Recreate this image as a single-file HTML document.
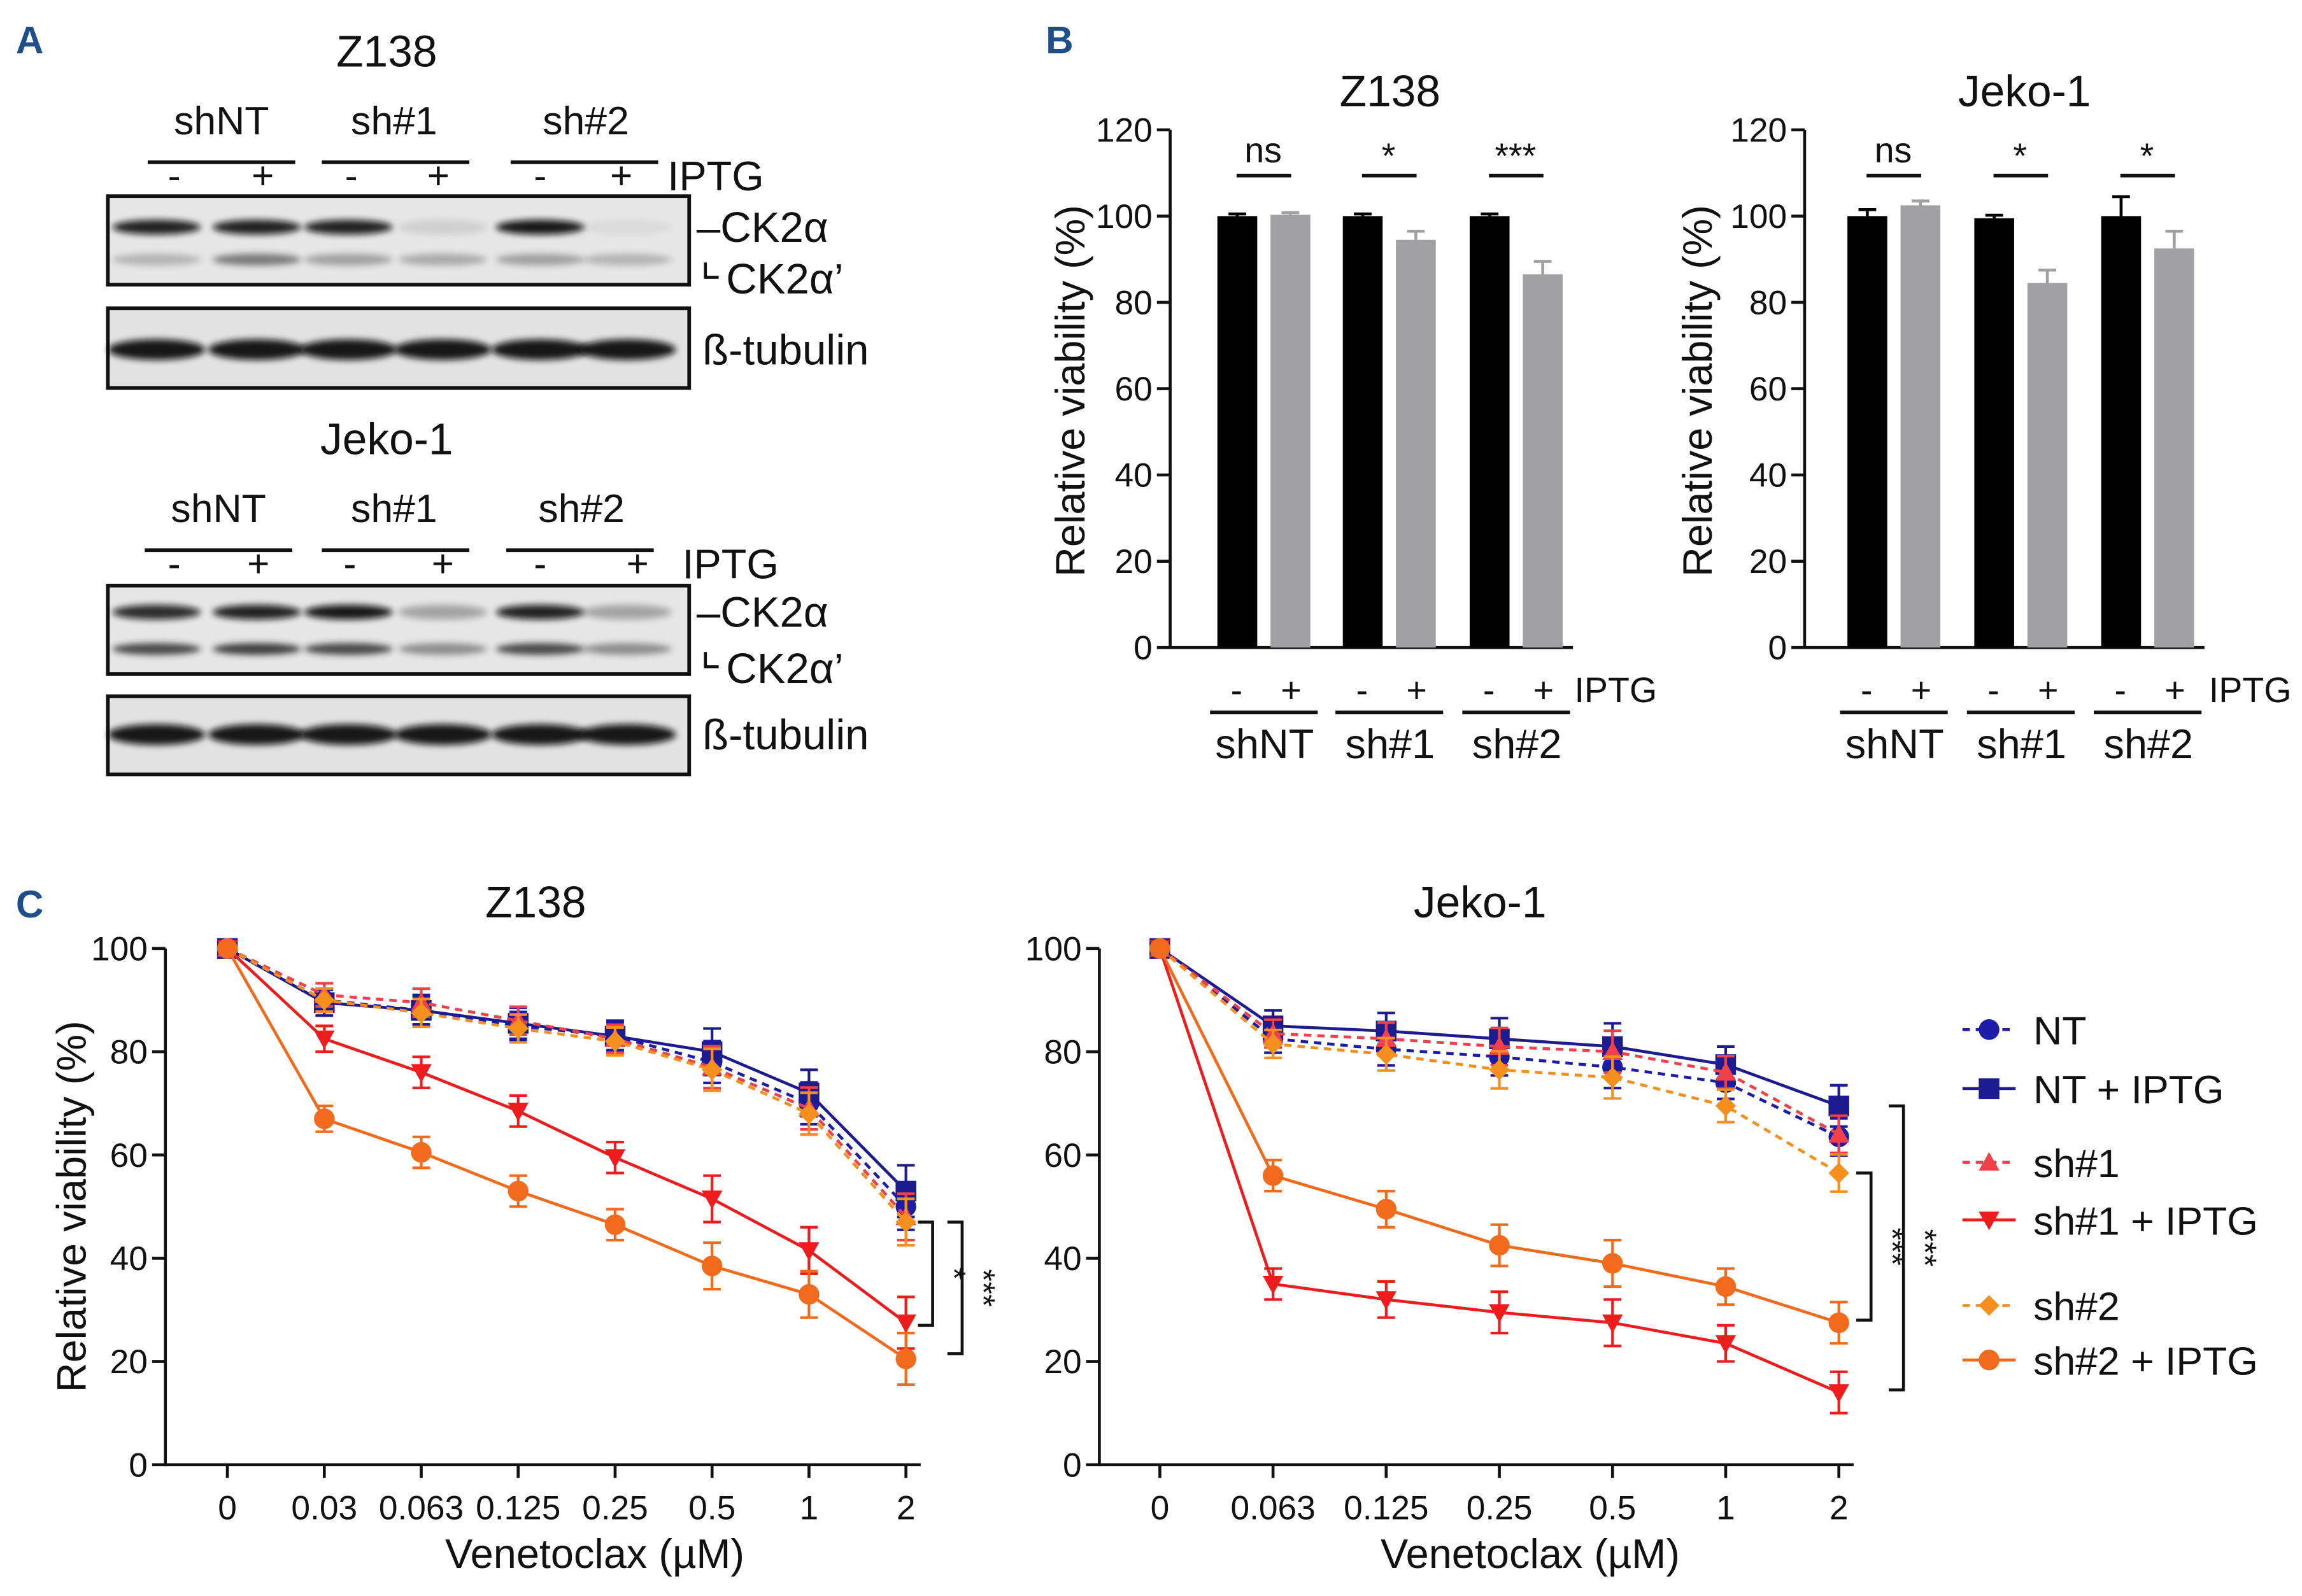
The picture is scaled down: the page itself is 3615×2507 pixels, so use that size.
<!DOCTYPE html>
<html><head><meta charset="utf-8"><style>
html,body{margin:0;padding:0;background:#fff}
svg{display:block;font-family:"Liberation Sans",Arial,sans-serif}
</style></head><body>
<svg id="fig" width="3615" height="2507" viewBox="0 0 1560 1082" xmlns="http://www.w3.org/2000/svg">
<defs><filter id="bl" x="-20%" y="-100%" width="140%" height="300%"><feGaussianBlur stdDeviation="2.2"/></filter></defs>
<g id="pa"></g>
<g id="pb"></g>
<g id="pc"></g>
</svg>
<script>
// ---------- DATA ----------
const barGroups = ["shNT","sh#1","sh#2"];
const z138BarMinus = [100,100,100];
const z138BarPlus = [100.3,94.5,86.5];
const z138ErrMinus = [0.5,0.5,0.5];
const z138ErrPlus = [0.5,2,3];
const z138Sig = ["ns","*","***"];
const jekoBarMinus = [100,99.5,100];
const jekoBarPlus = [102.5,84.5,92.5];
const jekoErrMinus = [1.5,0.7,4.5];
const jekoErrPlus = [1,3,4];
const jekoSig = ["ns","*","*"];
const barTicks = [0,20,40,60,80,100,120];

const z138Doses = ["0","0.03","0.063","0.125","0.25","0.5","1","2"];
const z138NT = [100,90,88,85,83,78,70,50];
const z138NTI = [100,89.5,88,85.5,83,80,72,53];
const z138S1 = [100,91,89.5,86,82.5,77,69,48];
const z138S1I = [100,82.5,76,68.5,59.5,51.5,41.5,27.5];
const z138S2 = [100,90,87.5,84.5,82,76.5,68,47];
const z138S2I = [100,67,60.5,53,46.5,38.5,33,20.5];
const z138Err = [0.5,2.5,3,3,3,4.5,4.5,5];
const jekoDoses = ["0","0.063","0.125","0.25","0.5","1","2"];
const jekoNT = [100,82.5,80.5,79,77,74,63.5];
const jekoNTI = [100,85,84,82.5,81,77.5,69.5];
const jekoS1 = [100,83.5,82.5,81,80,76,64];
const jekoS1I = [100,35,32,29.5,27.5,23.5,14];
const jekoS2 = [100,81.5,79.5,76.5,75,69.5,56.5];
const jekoS2I = [100,56,49.5,42.5,39,34.5,27.5];
const jekoErr = [0.5,3,3.5,4,4.5,3.5,4];
const lineTicks = [0,20,40,60,80,100];

const NS="http://www.w3.org/2000/svg";
function el(p,tag,a,txt){const e=document.createElementNS(NS,tag);for(const k in a)e.setAttribute(k,a[k]);if(txt!==undefined)e.textContent=txt;p.appendChild(e);return e;}
function T(p,x,y,s,size,anchor,extra){const e=el(p,'text',Object.assign({x:x,y:y,'font-size':size,'text-anchor':anchor||'middle',fill:'#111'},extra||{}),s);

return e;}

// ---------- PANEL A ----------
const pa=document.getElementById('pa');
const pl=T(pa,20,36,'A',26,'middle',{fill:'#1f4e8c','font-weight':'bold'});

function blot(y0,title,lblY,lblX,ulX,pmX,iptgX,b1,b2,k1,k2,ints){
  T(pa,262,y0,title,30);
  const labs=["shNT","sh#1","sh#2"];
  for(let i=0;i<3;i++){T(pa,lblX[i],lblY,labs[i],27);
    const u=el(pa,'line',{x1:ulX[i],x2:ulX[i]+100,y1:lblY+19,y2:lblY+19,stroke:'#111','stroke-width':2.5});
    }
  for(let i=0;i<6;i++)T(pa,pmX[i],lblY+37,i%2?'+':'-',26);
  T(pa,iptgX,lblY+38,'IPTG',28);
  [b1,b2].forEach((bb,j)=>{
    const r=el(pa,'rect',{x:73,y:bb[0],width:394,height:bb[1],fill:j?'#e2e2e2':'#e6e6e6',stroke:'#111','stroke-width':2.5});
    
  });
  const cx=[106,174,236,300,366,425];
  for(let i=0;i<6;i++){
    const a=el(pa,'ellipse',{cx:cx[i],cy:k1[0],rx:30,ry:5,fill:'#111',opacity:ints[0][i],filter:'url(#bl)'});
    
    const b=el(pa,'ellipse',{cx:cx[i],cy:k1[1],rx:30,ry:4,fill:'#222',opacity:ints[1][i],filter:'url(#bl)'});
    
    const c=el(pa,'ellipse',{cx:cx[i],cy:k2,rx:33,ry:7,fill:'#0a0a0a',opacity:0.95,filter:'url(#bl)'});
    
  }
  T(pa,472,k1[0]+10,'–CK2α',29,'start');
  const br=el(pa,'polyline',{points:`478,${k1[1]+2} 478,${k1[1]+12} 487,${k1[1]+12}`,fill:'none',stroke:'#111','stroke-width':2});
  
  T(pa,492,k1[1]+23,'CK2α’',29,'start');
  T(pa,476,k2+10,'ß-tubulin',29,'start');
}
blot(45,'Z138',91,[150,267,397],[100,218,346],[118,178,238,297,366,421],485,[133,60],[209,54],[154,176],237,
 [[.9,.9,.9,.1,.95,.05],[.25,.55,.35,.3,.35,.25]]);
blot(308,'Jeko-1',354,[148,267,394],[98,218,343],[118,175,237,300,366,432],495,[397,60],[472,53],[415,440],498,
 [[.85,.9,.95,.3,.9,.3],[.8,.85,.8,.45,.8,.45]]);

// ---------- PANEL B ----------
const pb=document.getElementById('pb');
const plb=T(pb,718,36,'B',26,'middle',{fill:'#1f4e8c','font-weight':'bold'});
function barChart(ax,title,titleX,ylabX,minus,plus,eM,eP,sig,groupX,iptgX){
  const g=el(pb,'g',{});
  const y=v=>439-v*351/120;
  T(g,titleX,72,title,30);
  const yl=T(g,0,0,'Relative viability (%)',28,'middle',{transform:`translate(${ylabX},265) rotate(-90)`});
  
  el(g,'line',{x1:ax,x2:ax,y1:y(120),y2:y(0)+1,stroke:'#111','stroke-width':2});
  barTicks.forEach(t=>{el(g,'line',{x1:ax-9,x2:ax,y1:y(t),y2:y(t),stroke:'#111','stroke-width':2});T(g,ax-12,y(t)+8,t,23,'end');});
  el(g,'line',{x1:ax,x2:groupX[2]+70,y1:y(0),y2:y(0),stroke:'#111','stroke-width':2});
  for(let i=0;i<3;i++){
    const x0=groupX[i];
    [[minus,eM,'#000',0],[plus,eP,'#a0a0a5',36]].forEach(([d,e,c,off],k)=>{
      const r=el(g,'rect',{x:x0+off,y:y(d[i]),width:27,height:y(0)-y(d[i]),fill:c});
      
      const cx=x0+off+13.5;
      el(g,'line',{x1:cx,x2:cx,y1:y(d[i]),y2:y(d[i]+e[i]),stroke:c,'stroke-width':2});
      el(g,'line',{x1:cx-6,x2:cx+6,y1:y(d[i]+e[i]),y2:y(d[i]+e[i]),stroke:c,'stroke-width':2});
    });
    el(g,'line',{x1:x0+13,x2:x0+50,y1:119,y2:119,stroke:'#111','stroke-width':2.5});
    T(g,x0+31,sig[i]=='ns'?110:114,sig[i],24);
    T(g,x0+13,476,'-',24);T(g,x0+50,476,'+',24);
    el(g,'line',{x1:x0-5,x2:x0+68,y1:483,y2:483,stroke:'#111','stroke-width':2.5});
    T(g,x0+32,514,barGroups[i],28);
  }
  T(g,iptgX,476,'IPTG',24);
}
barChart(793,'Z138',942,735,z138BarMinus,z138BarPlus,z138ErrMinus,z138ErrPlus,z138Sig,[825,910,996],1095);
barChart(1223,'Jeko-1',1372,1160,jekoBarMinus,jekoBarPlus,jekoErrMinus,jekoErrPlus,jekoSig,[1252,1338,1424],1525);

// ---------- PANEL C ----------
const pc=document.getElementById('pc');
const plc=T(pc,20,622,'C',26,'middle',{fill:'#1f4e8c','font-weight':'bold'});
const styles=[
 {name:'NT',c:'#1c1ca8',dash:'5,4',m:'circle'},
 {name:'NT + IPTG',c:'#1c1c90',dash:'',m:'square'},
 {name:'sh#1',c:'#f0404a',dash:'5,4',m:'tri'},
 {name:'sh#1 + IPTG',c:'#ee1c1c',dash:'',m:'itri'},
 {name:'sh#2',c:'#f5901e',dash:'5,4',m:'diamond'},
 {name:'sh#2 + IPTG',c:'#f26a1b',dash:'',m:'circle'}];
function marker(g,m,x,y,c,s){
  s=s||7;let e;
  if(m=='circle')e=el(g,'circle',{cx:x,cy:y,r:s,fill:c});
  else if(m=='square')e=el(g,'rect',{x:x-s,y:y-s,width:2*s,height:2*s,fill:c});
  else if(m=='tri')e=el(g,'polygon',{points:`${x},${y-s} ${x+s},${y+s*0.8} ${x-s},${y+s*0.8}`,fill:c});
  else if(m=='itri')e=el(g,'polygon',{points:`${x},${y+s} ${x+s},${y-s*0.8} ${x-s},${y-s*0.8}`,fill:c});
  else e=el(g,'polygon',{points:`${x},${y-s} ${x+s},${y} ${x},${y+s} ${x-s},${y}`,fill:c});
  return e;
}
function lineChart(ax,x0,dx,title,titleX,doses,series,err,brackets,xTitleX){
  const g=el(pc,'g',{});
  const y=v=>993-v*3.5;const x=i=>x0+i*dx;
  T(g,titleX,622,title,30);
  if(ax<200){const yl=T(g,0,0,'Relative viability (%)',28,'middle',{transform:`translate(58,818) rotate(-90)`});}
  el(g,'line',{x1:ax,x2:ax,y1:y(100),y2:y(0)+1,stroke:'#111','stroke-width':2});
  lineTicks.forEach(t=>{el(g,'line',{x1:ax-9,x2:ax,y1:y(t),y2:y(t),stroke:'#111','stroke-width':2});T(g,ax-12,y(t)+8,t,23,'end');});
  el(g,'line',{x1:ax,x2:x(doses.length-1)+10,y1:y(0),y2:y(0),stroke:'#111','stroke-width':2});
  doses.forEach((d,i)=>{el(g,'line',{x1:x(i),x2:x(i),y1:y(0),y2:y(0)+9,stroke:'#111','stroke-width':2});T(g,x(i),1030,d,23);});
  const xt=T(g,xTitleX,1063,'Venetoclax (µM)',28);
  series.forEach((d,si)=>{
    const st=styles[si];
    const sg=el(g,'g',{});
    d.forEach((v,i)=>{const e=err[i]*(si%2?1:0.9);
      el(sg,'line',{x1:x(i),x2:x(i),y1:y(v-e),y2:y(v+e),stroke:st.c,'stroke-width':1.8});
      el(sg,'line',{x1:x(i)-6,x2:x(i)+6,y1:y(v-e),y2:y(v-e),stroke:st.c,'stroke-width':1.8});
      el(sg,'line',{x1:x(i)-6,x2:x(i)+6,y1:y(v+e),y2:y(v+e),stroke:st.c,'stroke-width':1.8});});
    el(sg,'polyline',{points:d.map((v,i)=>x(i)+','+y(v)).join(' '),fill:'none',stroke:st.c,'stroke-width':2,'stroke-dasharray':st.dash});
    d.forEach((v,i)=>{const mk=marker(sg,st.m,x(i),y(v),st.c);});
  });
  brackets.forEach(b=>{
    const p=el(g,'polyline',{points:`${b.x-10},${y(b.a)} ${b.x},${y(b.a)} ${b.x},${y(b.b)} ${b.x-10},${y(b.b)}`,fill:'none',stroke:'#111','stroke-width':2});
    
    const m=(y(b.a)+y(b.b))/2;
    T(g,0,0,b.s,22,'middle',{transform:`translate(${b.x+7},${m}) rotate(90)`});
  });
}
lineChart(112,154,65.7,'Z138',363,z138Doses,[z138NT,z138NTI,z138S1,z138S1I,z138S2,z138S2I],z138Err,
  [{x:632,a:47,b:27,s:'*'},{x:652,a:47,b:21.5,s:'***'}],403);
lineChart(745,786,76.7,'Jeko-1',1003,jekoDoses,[jekoNT,jekoNTI,jekoS1,jekoS1I,jekoS2,jekoS2I],jekoErr,
  [{x:1268,a:56.5,b:28,s:'***'},{x:1290,a:69.5,b:14.5,s:'***'}],1037);

// legend
const lg=el(pc,'g',{});
const legY=[698,738,788,827,885,922];
styles.forEach((st,i)=>{
  const e=el(lg,'g',{});
  el(e,'line',{x1:1330,x2:1366,y1:legY[i],y2:legY[i],stroke:st.c,'stroke-width':2,'stroke-dasharray':st.dash});
  marker(e,st.m,1348,legY[i],st.c);
  T(e,1378,legY[i]+10,st.name,27,'start');
});
</script>
</body></html>
